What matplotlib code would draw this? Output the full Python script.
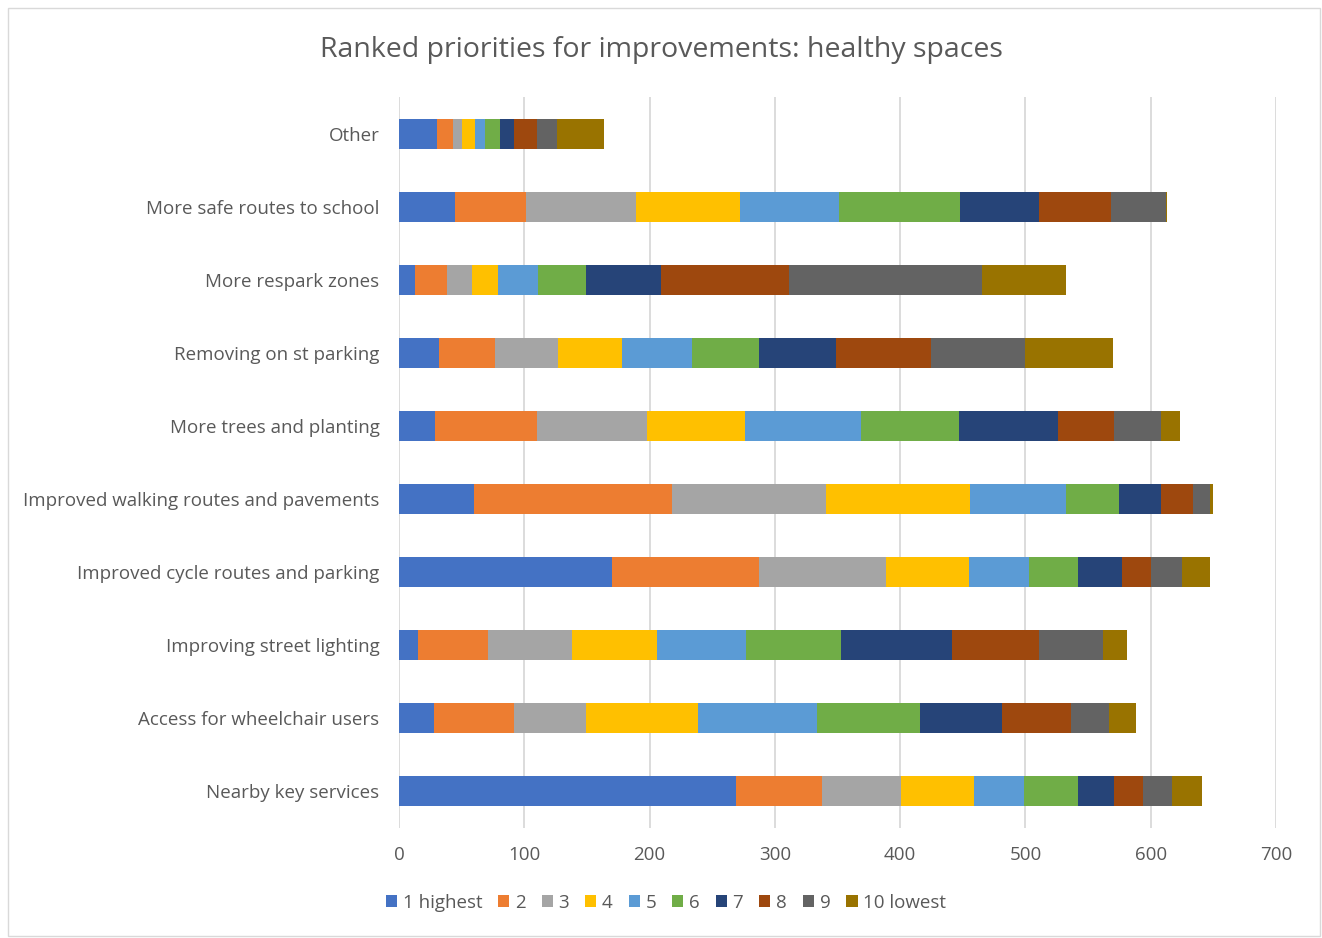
import matplotlib.pyplot as plt
import numpy as np
from matplotlib.patches import Rectangle

plt.rcParams['font.family'] = ['Open Sans', 'DejaVu Sans']

# categories bottom -> top
categories = ['Nearby key services', 'Access for wheelchair users', 'Improving street lighting',
              'Improved cycle routes and parking', 'Improved walking routes and pavements',
              'More trees and planting', 'Removing on st parking', 'More respark zones',
              'More safe routes to school', 'Other']
rank_labels = ['1 highest', '2', '3', '4', '5', '6', '7', '8', '9', '10 lowest']
colors = ['#4472C4', '#ED7D31', '#A5A5A5', '#FFC000', '#5B9BD5',
          '#70AD47', '#264478', '#9E480E', '#636363', '#997300']

# counts per category, rank 1..10
nearby = [269, 69, 63, 58, 40, 43, 29, 23, 23, 24]
wheelchair = [28, 64, 57, 90, 95, 82, 65, 55, 31, 21]
lighting = [15, 56, 67, 68, 71, 76, 88, 70, 51, 19]
cycle = [170, 117, 102, 66, 48, 39, 35, 23, 25, 22]
walking = [60, 158, 123, 115, 76, 43, 33, 26, 13, 3]
trees = [29, 81, 88, 78, 93, 78, 79, 45, 37, 15]
parking = [32, 45, 50, 51, 56, 53, 62, 76, 75, 70]
respark = [13, 25, 20, 21, 32, 38, 60, 102, 154, 67]
school = [45, 56, 88, 83, 79, 97, 63, 57, 44, 1]
other = [30, 13, 7, 11, 8, 12, 11, 18, 16, 38]

data = np.array([nearby, wheelchair, lighting, cycle, walking,
                 trees, parking, respark, school, other])

fig = plt.figure(figsize=(13.22, 9.38), dpi=100)
ax = fig.add_axes([399/1322, 1 - 828/938, 877/1322, 731/938])

y = np.arange(len(categories))
left = np.zeros(len(categories))
for i in range(data.shape[1]):
    ax.barh(y, data[:, i], left=left, height=0.41, color=colors[i],
            label=rank_labels[i], zorder=3)
    left += data[:, i]

ax.set_xlim(0, 700)
ax.set_ylim(-0.5, 9.5)
ax.set_xticks(np.arange(0, 701, 100))
ax.set_yticks(y)
ax.set_yticklabels(categories)
ax.grid(axis='x', color='#D9D9D9', lw=1.3, zorder=0)
for s in ax.spines.values():
    s.set_visible(False)
ax.tick_params(length=0, labelsize=13.5, colors='#595959', pad=14)
ax.tick_params(axis='x', pad=13)

fig.text(0.5, 1 - 50/938, 'Ranked priorities for improvements: healthy spaces',
         ha='center', va='center', fontsize=20.5, color='#595959')

leg = fig.legend(loc='center', bbox_to_anchor=(666/1322, 1 - 903/938), ncol=10,
                 frameon=False, fontsize=13.5, handlelength=0.6, handleheight=0.6,
                 handletextpad=0.3, columnspacing=0.85)
for t in leg.get_texts():
    t.set_color('#595959')

fig.patches.append(Rectangle((8/1322, 1 - 936/938), 1312/1322, 928/938,
                             transform=fig.transFigure, fill=False,
                             edgecolor='#D9D9D9', lw=1))

fig.savefig('out.png', dpi=100)
